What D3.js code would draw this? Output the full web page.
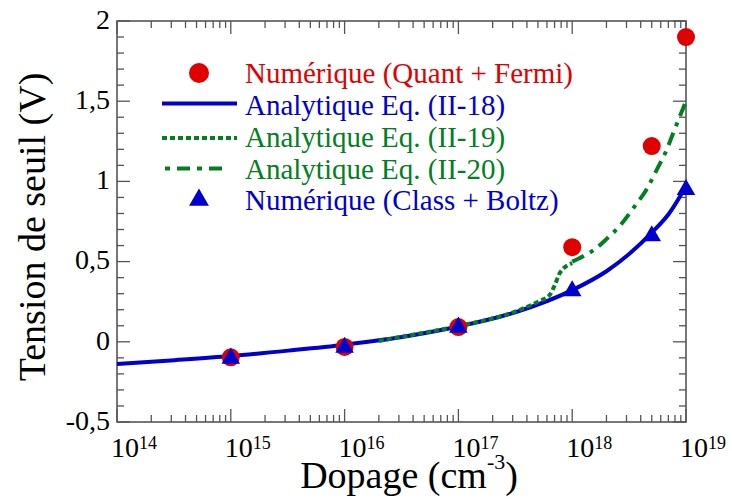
<!DOCTYPE html>
<html><head><meta charset="utf-8">
<script src="https://cdn.jsdelivr.net/npm/d3@7"></script>
<style>body{margin:0;background:#fff}svg{display:block}text{font-family:"Liberation Serif","Times New Roman",serif}</style>
</head><body><svg id="c" width="732" height="499"></svg>
<script>
// ---- data ----
const xDomain = [1e14, 1e19];
const yDomain = [-0.5, 2];
const xTickExps = [14, 15, 16, 17, 18, 19];
const yTickLabels = ["-0,5", "0", "0,5", "1", "1,5", "2"];
const yTickValues = [-0.5, 0, 0.5, 1, 1.5, 2];

const dopingPts = [1e15, 1e16, 1e17, 1e18, 5e18, 1e19];
const vthQuantFermi = [-0.097, -0.032, 0.092, 0.59, 1.22, 1.9];
const vthClassBoltz = [-0.103, -0.035, 0.09, 0.317, 0.66, 0.948];

const dopingEq18 = [1e14, 3.2e14, 1e15, 3.2e15, 1e16, 3.2e16, 1e17, 3.2e17, 1e18, 2e18, 3.2e18, 5e18, 7.1e18, 1e19];
const vthEq18    = [-0.139, -0.115, -0.089, -0.055, -0.018, 0.03, 0.095, 0.185, 0.322, 0.44, 0.55, 0.68, 0.80, 0.97];

const dopingEq19 = [2e16, 3.2e16, 1e17, 3.2e17, 5e17, 6.3e17, 7e17, 7.8e17, 1e18];
const vthEq19    = [0.005, 0.032, 0.098, 0.19, 0.25, 0.29, 0.35, 0.43, 0.49];

const dopingEq20 = [1e18, 1.26e18, 1.6e18, 2e18, 2.6e18, 3.5e18, 4.5e18, 5.6e18, 6.6e18, 8e18, 1e19];
const vthEq20    = [0.5, 0.535, 0.58, 0.64, 0.72, 0.84, 0.95, 1.08, 1.18, 1.33, 1.5];

const legendLabels = ["Numérique (Quant + Fermi)", "Analytique Eq. (II-18)", "Analytique Eq. (II-19)", "Analytique Eq. (II-20)", "Numérique (Class + Boltz)"];

// ---- styles ----
const RED = "#e00000", BLUE = "#0000d0", GREEN = "#008020", AX = "#555";
const L = 117, R = 686, T = 21, B = 422;

const svg = d3.select("#c");
const x = d3.scaleLog().domain(xDomain).range([L, R]);
const y = d3.scaleLinear().domain(yDomain).range([B, T]);

// minor tick values
const xMinor = [];
for (let e = 14; e < 19; e++) for (let m = 2; m <= 9; m++) xMinor.push(m * Math.pow(10, e));
const xMajor = xTickExps.map(e => Math.pow(10, e));
const yMinor = d3.range(-0.5, 2.0001, 0.1).map(v => +v.toFixed(2)).filter(v => !yTickValues.some(t => Math.abs(t - v) < 1e-6));

const axG = svg.append("g").attr("stroke", AX).attr("stroke-width", 1.3);
function tk(x1, y1, x2, y2) { axG.append("line").attr("x1", x1).attr("y1", y1).attr("x2", x2).attr("y2", y2); }
xMajor.forEach(v => { tk(x(v), B, x(v), B - 13); tk(x(v), T, x(v), T + 13); });
xMinor.forEach(v => { tk(x(v), B, x(v), B - 7); tk(x(v), T, x(v), T + 7); });
yTickValues.forEach(v => { tk(L, y(v), L + 13, y(v)); tk(R, y(v), R - 13, y(v)); });
yMinor.forEach(v => { tk(L, y(v), L + 7, y(v)); tk(R, y(v), R - 7, y(v)); });
axG.append("rect").attr("x", L).attr("y", T).attr("width", R - L).attr("height", B - T).attr("fill", "none").attr("stroke-width", 1.6);

// tick labels
xTickExps.forEach(e => {
  const t = svg.append("text").attr("x", x(Math.pow(10, e)) - 6).attr("y", 457).attr("font-size", 28).attr("fill", "#000");
  t.append("tspan").text("10");
  t.append("tspan").attr("dy", -8.5).attr("font-size", 18).text(e);
});
yTickValues.forEach((v, i) => {
  svg.append("text").attr("x", 110).attr("y", y(v)).attr("dy", "0.28em").attr("text-anchor", "end")
    .attr("font-size", 28).attr("fill", "#000").text(yTickLabels[i]);
});

// axis titles
const xt = svg.append("text").attr("x", 409).attr("y", 488).attr("text-anchor", "middle").attr("font-size", 38).attr("fill", "#000");
xt.append("tspan").text("Dopage (cm");
xt.append("tspan").attr("dy", -19).attr("font-size", 22).text("-3");
xt.append("tspan").attr("dy", 19).text(")");
svg.append("text").attr("transform", "translate(45,227) rotate(-90)").attr("text-anchor", "middle")
  .attr("font-size", 38).attr("fill", "#000").text("Tension de seuil (V)");

// lines
const line = d3.line().x(d => x(d[0])).y(d => y(d[1])).curve(d3.curveMonotoneX);
const plot = svg.append("g");
plot.append("path").datum(d3.zip(dopingEq18, vthEq18)).attr("d", line).attr("fill", "none").attr("stroke", BLUE).attr("stroke-width", 4);
plot.append("path").datum(d3.zip(dopingEq19, vthEq19)).attr("d", line).attr("fill", "none").attr("stroke", GREEN).attr("stroke-width", 4).attr("stroke-dasharray", "5,3");
plot.append("path").datum(d3.zip(dopingEq20, vthEq20)).attr("d", line).attr("fill", "none").attr("stroke", GREEN).attr("stroke-width", 4).attr("stroke-dasharray", "13,7,4,7");

// markers
plot.selectAll("circle.qf").data(d3.zip(dopingPts, vthQuantFermi)).join("circle")
  .attr("cx", d => x(d[0])).attr("cy", d => y(d[1])).attr("r", 9).attr("fill", RED);
const tri = d3.symbol().type(d3.symbolTriangle).size(150);
plot.selectAll("path.cb").data(d3.zip(dopingPts, vthClassBoltz)).join("path")
  .attr("transform", d => `translate(${x(d[0])},${y(d[1])})`).attr("d", tri).attr("fill", BLUE);

// legend
const lg = svg.append("g");
const rowY = [73, 105, 137, 168.5, 200];
const txtCol = [RED, BLUE, GREEN, GREEN, BLUE];
legendLabels.forEach((s, i) => {
  lg.append("text").attr("x", 245).attr("y", rowY[i] + 10).attr("font-size", 29).attr("fill", txtCol[i]).text(s);
});
lg.append("circle").attr("cx", 199).attr("cy", rowY[0]).attr("r", 10).attr("fill", RED);
lg.append("line").attr("x1", 162).attr("x2", 237).attr("y1", rowY[1] - 1.5).attr("y2", rowY[1] - 1.5).attr("stroke", BLUE).attr("stroke-width", 4);
lg.append("line").attr("x1", 162).attr("x2", 237).attr("y1", rowY[2] + 1).attr("y2", rowY[2] + 1).attr("stroke", GREEN).attr("stroke-width", 4).attr("stroke-dasharray", "5,3");
lg.append("line").attr("x1", 165).attr("x2", 228).attr("y1", rowY[3]).attr("y2", rowY[3]).attr("stroke", GREEN).attr("stroke-width", 4).attr("stroke-dasharray", "5,7,13,7");
lg.append("path").attr("transform", `translate(199,${rowY[4]})`).attr("d", d3.symbol().type(d3.symbolTriangle).size(170)).attr("fill", BLUE);
</script></body></html>
